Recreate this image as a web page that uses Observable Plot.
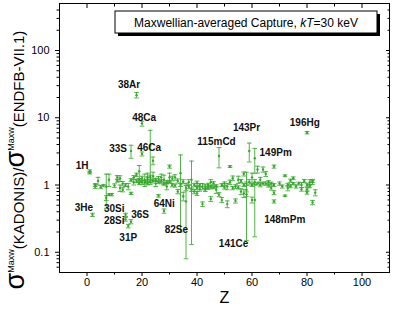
<!DOCTYPE html>
<html><head><meta charset="utf-8">
<script src="https://cdn.jsdelivr.net/npm/d3@7"></script>
<script src="https://cdn.jsdelivr.net/npm/@observablehq/plot@0.6"></script>
<style>
body{margin:0;background:#fff;font-family:Arial,"Liberation Sans",sans-serif}
#chart{width:395px;height:316px;position:relative}
</style>
</head><body><div id="chart"></div>
<script>
// Atomic number Z, ratio KADONIS/ENDF, absolute uncertainty
const Z = [1,1,2,3,3,4,5,6,7,7,8,8,9,10,11,11,12,12,13,13,14,14,14,15,15,16,16,16,16,17,17,18,18,18,19,19,19,20,20,20,20,21,21,22,22,22,23,23,23,24,24,24,25,25,26,26,26,27,27,28,28,28,29,29,30,30,30,31,31,32,32,33,33,34,34,35,35,36,36,37,37,38,38,39,39,40,40,40,41,41,42,42,43,43,44,44,45,45,45,46,46,47,47,48,48,49,49,50,50,51,51,52,52,53,53,54,54,55,55,56,56,57,57,57,58,58,58,59,59,60,60,60,61,61,61,62,62,63,63,64,64,65,65,66,66,67,67,68,68,68,68,70,71,72,72,73,73,74,74,75,75,76,77,78,78,79,80,80,80,80,81,81,82,82,82,83];
const ratio = [1.6,1.52,0.36,0.95,1.0,1.15,0.93,0.98,0.64,0.95,1.2,0.72,0.72,0.98,1.3,1.15,0.9,1.25,1.05,0.85,0.36,0.31,1.0,0.245,0.95,3.2,0.285,0.75,1.18,1.1,1.3,21.7,1.42,1.15,1.18,1.05,1.6,8.2,2.9,1.1,1.25,1.2,1.1,1.22,1.05,1.3,3.8,1.1,1.3,2.3,1.15,1.35,1.2,1.05,1.24,1.1,0.69,1.12,1.3,0.41,1.2,1.05,1.1,0.95,1.88,1.12,1.3,1.0,1.25,1.3,0.98,0.8,1.15,1.5,1.0,1.12,0.68,0.57,0.9,0.94,1.1,1.2,0.85,1.0,0.8,1.06,0.9,0.75,0.87,1.0,0.52,0.95,0.95,0.85,1.0,0.9,0.93,0.62,1.1,1.06,0.92,0.96,0.85,2.7,0.72,0.6,1.0,0.92,1.05,0.52,0.95,1.88,1.1,1.26,0.9,0.58,0.95,0.92,1.2,1.15,0.8,1.0,1.46,0.75,0.85,1.05,0.73,3.2,1.1,0.6,1.0,1.3,2.5,0.6,1.1,1.7,1.05,1.2,1.0,1.7,1.05,1.46,1.05,1.1,0.98,0.9,1.05,1.88,0.57,0.77,1.0,1.05,0.95,1.37,0.69,1.0,0.9,1.16,0.96,1.26,1.05,0.95,1.05,0.86,1.0,1.15,6.0,1.0,0.77,0.86,1.1,0.96,1.1,0.55,1.15,0.77];
const err = [0.08,0.06,0.02,0.06,0.05,0.15,0.05,0.04,0.05,0.5,0.25,0.02,0.03,0.06,0.08,0.05,0.1,0.12,0.08,0.06,0.02,0.02,0.05,0.015,0.1,0.7,0.02,0.03,0.06,0.1,0.08,2.0,0.08,0.06,0.05,0.04,0.35,0.7,0.2,0.08,0.1,0.25,0.06,0.1,0.05,0.2,2.7,0.08,0.1,0.3,0.08,0.2,0.06,0.1,0.1,0.04,0.03,0.08,0.15,0.03,0.2,0.05,0.06,0.1,0.1,0.06,0.2,0.06,0.1,0.12,0.05,0.06,0.08,1.3,0.05,0.08,0.1,0.49,0.08,0.06,0.1,1.07,0.05,0.06,0.06,0.08,0.05,0.05,0.06,0.05,0.04,0.1,0.06,0.05,0.06,0.04,0.05,0.05,0.1,0.06,0.04,0.05,0.1,0.9,0.05,0.05,0.05,0.05,0.06,0.06,0.1,0.06,0.08,0.1,0.05,0.04,0.06,0.05,0.15,0.06,0.08,0.05,0.1,0.1,0.7,0.06,0.06,1.0,0.1,0.06,0.05,0.2,1.0,0.43,0.1,0.2,0.05,0.1,0.06,0.15,0.05,0.12,0.06,0.06,0.05,0.06,0.05,0.1,0.03,0.05,0.05,0.06,0.05,0.04,0.02,0.06,0.08,0.06,0.05,0.06,0.04,0.05,0.05,0.05,0.08,0.06,0.25,0.06,0.04,0.05,0.1,0.05,0.08,0.04,0.06,0.08];

// Isotope annotations (data coordinates)
const labelText = ["38Ar","48Ca","33S","46Ca","1H","3He","30Si","28Si","36S","31P","64Ni","82Se","115mCd","143Pr","149Pm","196Hg","141Ce","148mPm"];
const labelZ = [15.3,20.8,11.3,22.6,-1.8,-1.1,9.9,9.9,19.3,15.0,28.1,32.5,47.1,58.0,68.6,79.2,53.3,71.9];
const labelR = [30.7,10.1,3.5,3.6,1.95,0.457,0.44,0.295,0.359,0.162,0.525,0.214,4.46,7.2,3.04,8.3,0.134,0.30];

const xTicks = [0,20,40,60,80,100];
const xMinorTicks = [10,30,50,70,90];
const yTicks = [0.1,1,10,100];
const yMinorTicks = [0.06,0.07,0.08,0.09,0.2,0.3,0.4,0.5,0.6,0.7,0.8,0.9,2,3,4,5,6,7,8,9,20,30,40,50,60,70,80,90,200,300,400];

const titleText = "Maxwellian-averaged Capture, ";

const green = "#35a82a";
const points = Z.map((z,i)=>({z, r: ratio[i], lo: ratio[i]-err[i], hi: ratio[i]+err[i]}));
const labels = labelText.map((t,i)=>({t, z: labelZ[i], r: labelR[i]}));
const cap = 0.85;

const blank = () => "";
const plot = Plot.plot({
  width: 395, height: 316,
  marginLeft: 59, marginRight: 6, marginTop: 3, marginBottom: 44,
  x: {domain: [-10, 110]},
  y: {type: "log", domain: [0.05, 500]},
  style: {fontFamily: "Arial, 'Liberation Sans', sans-serif", fontSize: "11px", color: "#000", background: "#fff", overflow: "visible"},
  marks: [
    Plot.ruleX(points, {x: "z", y1: "lo", y2: "hi", stroke: green, strokeWidth: 1, strokeOpacity: 0.85}),
    Plot.link(points, {x1: d => d.z - cap, x2: d => d.z + cap, y1: "hi", y2: "hi", stroke: green, strokeWidth: 1, strokeOpacity: 0.85}),
    Plot.link(points, {x1: d => d.z - cap, x2: d => d.z + cap, y1: "lo", y2: "lo", stroke: green, strokeWidth: 1, strokeOpacity: 0.85}),
    Plot.dot(points, {x: "z", y: "r", r: 1.2, fill: green}),
    Plot.text(labels, {x: "z", y: "r", text: "t", fontWeight: "bold", fontSize: 10, fill: "#111"}),
    Plot.frame({stroke: "#000", strokeWidth: 1}),
    Plot.axisX({ticks: xTicks, tickSize: 4, tickPadding: 2, label: null, fontSize: 11}),
    Plot.axisX({ticks: xMinorTicks, tickSize: 2.5, tickFormat: blank, label: null}),
    Plot.axisX({anchor: "top", ticks: xTicks, tickSize: -4, tickFormat: blank, label: null}),
    Plot.axisX({anchor: "top", ticks: xMinorTicks, tickSize: -2.5, tickFormat: blank, label: null}),
    Plot.axisY({ticks: yTicks, tickSize: 4, tickPadding: 6, tickFormat: d => String(d), label: null, fontSize: 11}),
    Plot.axisY({ticks: yMinorTicks, tickSize: 2.5, tickFormat: blank, label: null}),
    Plot.axisY({anchor: "right", ticks: yTicks, tickSize: -4, tickFormat: blank, label: null}),
    Plot.axisY({anchor: "right", ticks: yMinorTicks, tickSize: -2.5, tickFormat: blank, label: null}),
    Plot.text(["Z"], {frameAnchor: "bottom", dy: 30, fontSize: 16, text: d => d})
  ]
});
document.getElementById("chart").appendChild(plot);

const svg = d3.select(plot);
// title box with shadow
const bx = 115, by = 11, bw = 262, bh = 22;
svg.append("rect").attr("x", bx+3).attr("y", by+3).attr("width", bw).attr("height", bh).attr("fill", "#000");
svg.append("rect").attr("x", bx).attr("y", by).attr("width", bw).attr("height", bh).attr("fill", "#fff").attr("stroke", "#000").attr("stroke-width", 1);
const tt = svg.append("text").attr("x", bx + bw/2).attr("y", by + bh/2 + 4.5).attr("text-anchor", "middle")
  .attr("font-size", 12).attr("font-family", "Arial, 'Liberation Sans', sans-serif");
tt.append("tspan").text(titleText);
tt.append("tspan").attr("font-style", "italic").text("kT");
tt.append("tspan").text("=30 keV");

// y axis label
const yl = svg.append("text").attr("transform", "translate(24,160) rotate(-90)").attr("text-anchor", "middle")
  .attr("font-family", "Arial, 'Liberation Sans', sans-serif").attr("fill", "#000");
yl.append("tspan").attr("font-size", 27).text("σ");
yl.append("tspan").attr("font-size", 9).attr("dy", -10).text("Maxw");
yl.append("tspan").attr("font-size", 15).attr("dy", 10).text("(KADONIS)/");
yl.append("tspan").attr("font-size", 27).text("σ");
yl.append("tspan").attr("font-size", 9).attr("dy", -10).text("Maxw");
yl.append("tspan").attr("font-size", 15).attr("dy", 10).text("(ENDFB-VII.1)");
</script>
</body></html>
